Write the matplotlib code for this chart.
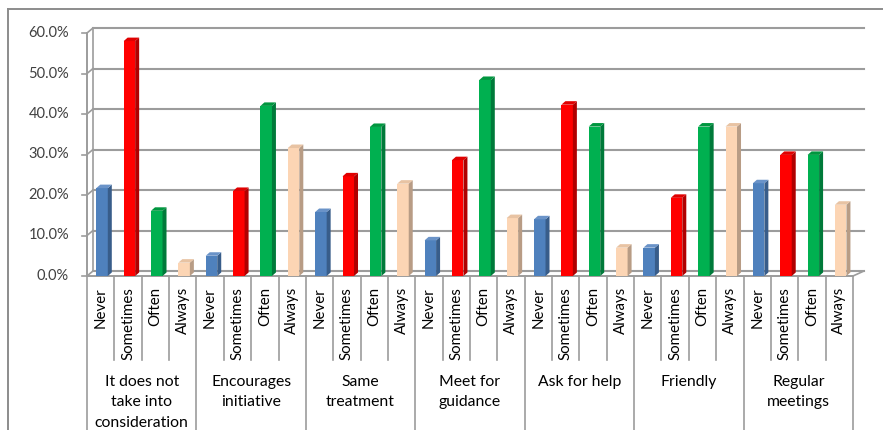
import matplotlib
matplotlib.use("Agg")
import matplotlib.pyplot as plt
from matplotlib.patches import Polygon
from matplotlib.lines import Line2D
import matplotlib.transforms as mtransforms

plt.rcParams['font.family'] = ['Lato', 'DejaVu Sans']

# data (percent)
groups = ["It does not\ntake into\nconsideration", "Encourages\ninitiative", "Same\ntreatment",
          "Meet for\nguidance", "Ask for help", "Friendly", "Regular\nmeetings"]
answers = ["Never", "Sometimes", "Often", "Always"]
never = [21.7, 5.0, 15.8, 8.8, 14.0, 7.0, 22.9]
sometimes = [58.0, 21.0, 24.6, 28.6, 42.3, 19.3, 29.9]
often = [16.1, 42.0, 36.8, 48.4, 36.9, 36.9, 29.9]
always = [3.3, 31.6, 22.8, 14.3, 7.0, 36.9, 17.6]

front_colors = ["#4F81BD", "#FF0000", "#00B050", "#FCD5B4"]
side_colors = ["#385D8A", "#B00000", "#007A3A", "#B89C85"]
top_colors = ["#6A93C8", "#E00000", "#00963F", "#E8C3A3"]

W, H = 883, 430
fig = plt.figure(figsize=(W / 100, H / 100), dpi=100)

# plot area in pixels
x0_px, x1_px = 87, 853
y0_px, y1_px = 276, 33
ax = fig.add_axes([x0_px / W, 1 - y0_px / H, (x1_px - x0_px) / W, (y0_px - y1_px) / H])
n_slots = len(groups) * len(answers)
ax.set_xlim(0, n_slots)
ax.set_ylim(0, 60)
for s in ax.spines.values():
    s.set_visible(False)
ax.set_xticks([])
ax.set_yticks([])

ux = n_slots / (x1_px - x0_px)   # data per pixel
uy = 60 / (y0_px - y1_px)

grid_c = "#9C9C9C"
wall_dx, wall_dy = 6 * ux, 5 * uy

# back wall gridlines and floor
for v in range(0, 61, 10):
    ax.add_line(Line2D([wall_dx, n_slots + 11 * ux], [v + wall_dy, v + wall_dy], color=grid_c, lw=1.5,
                       clip_on=False, zorder=1))
    ax.add_line(Line2D([0, wall_dx], [v, v + wall_dy], color=grid_c, lw=1.2, clip_on=False, zorder=1))
    ax.add_line(Line2D([-5 * ux, 0], [v, v], color=grid_c, lw=1.2, clip_on=False, zorder=1))
    ax.text(-18 * ux, v, f"{v:.1f}%", ha="right", va="center", fontsize=10.5, color="#404040")
ax.add_line(Line2D([wall_dx, wall_dx], [wall_dy, 60 + wall_dy], color=grid_c, lw=1.2, clip_on=False))
ax.add_line(Line2D([0, 0], [0, 60], color=grid_c, lw=1.4, clip_on=False))
ax.add_line(Line2D([0, n_slots], [0, 0], color=grid_c, lw=1.4, clip_on=False))
ax.add_line(Line2D([n_slots, n_slots + 11 * ux], [0, wall_dy], color=grid_c, lw=1.2, clip_on=False))

# 3d-looking bars
series = [never, sometimes, often, always]
bw = 11.5 * ux
ddx, ddy = 4 * ux, 3.5 * uy
for k, vals in enumerate(series):
    xs = [g * len(answers) + k + 0.5 + 0.05 for g in range(len(groups))]
    ax.bar(xs, vals, width=bw, color=front_colors[k], zorder=3, linewidth=0)
    for x, v in zip(xs, vals):
        l, r = x - bw / 2, x + bw / 2
        ax.add_patch(Polygon([(r, 0), (r + ddx, ddy), (r + ddx, v + ddy), (r, v)],
                             closed=True, facecolor=side_colors[k], lw=0, zorder=3))
        ax.add_patch(Polygon([(l, v), (l + ddx, v + ddy), (r + ddx, v + ddy), (r, v)],
                             closed=True, facecolor=top_colors[k], lw=0, zorder=3))

# category axis labels
trans = mtransforms.blended_transform_factory(ax.transData, ax.transAxes)
ax_h = y0_px - y1_px
for i in range(n_slots):
    ax.text(i + 0.5, -11 / ax_h, answers[i % len(answers)], rotation=90, ha="center", va="top",
            fontsize=10.8, color="#000000", transform=trans)
for i in range(n_slots + 1):
    if i % len(answers) == 0:
        bottom = -(H - y0_px + 5) / ax_h
    else:
        bottom = -(360 - y0_px) / ax_h
    ax.add_line(Line2D([i, i], [0, bottom], color=grid_c, lw=1.2, transform=trans, clip_on=False))
for g, name in enumerate(groups):
    ax.text(g * len(answers) + 2, -(375 - y0_px) / ax_h, name, ha="center", va="top", fontsize=11.3,
            color="#000000", linespacing=1.58, transform=trans)

# outer chart frame
fig.add_artist(Line2D([8 / W, 1.0], [1 - 9 / H, 1 - 9 / H], color="#8C8C8C", lw=1.4))
fig.add_artist(Line2D([8 / W, 8 / W], [0, 1 - 9 / H], color="#8C8C8C", lw=1.4))

fig.savefig("out.png", dpi=100)
